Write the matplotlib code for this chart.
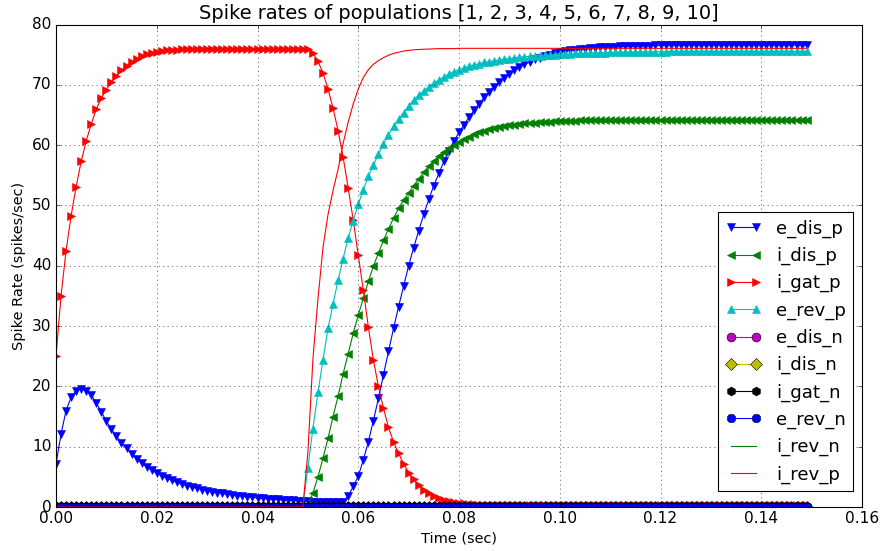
import numpy as np
import matplotlib
matplotlib.use("Agg")
import matplotlib.pyplot as plt
from matplotlib.ticker import FormatStrFormatter

plt.style.use("classic")

# time axis: one sample per millisecond
time = np.arange(150) * 0.001

e_dis_p = [7.1, 12.1, 16.0, 18.2, 19.3, 19.6, 19.3, 18.6, 17.2, 15.8,
           14.2, 12.9, 11.7, 10.6, 9.7, 8.8, 8.0, 7.3, 6.7, 6.1,
           5.6, 5.2, 4.8, 4.4, 4.1, 3.8, 3.5, 3.3, 3.1, 2.9,
           2.7, 2.55, 2.4, 2.25, 2.1, 2.0, 1.9, 1.8, 1.7, 1.6,
           1.5, 1.45, 1.4, 1.3, 1.25, 1.2, 1.15, 1.1, 1.05, 1.0,
           0.95, 0.9, 0.9, 0.85, 0.85, 0.8, 0.8, 0.9, 1.8, 3.4,
           5.1, 7.8, 10.8, 14.3, 18.0, 21.9, 25.8, 29.6, 33.2, 36.6,
           40.0, 43.0, 45.8, 48.5, 51.0, 53.3, 55.3, 57.3, 59.1, 60.7,
           62.1, 63.4, 64.6, 65.8, 66.9, 67.9, 68.8, 69.7, 70.5, 71.2,
           71.8, 72.4, 72.9, 73.4, 73.8, 74.2, 74.5, 74.8, 75.0, 75.2,
           75.4, 75.55, 75.7, 75.8, 75.9, 76.0, 76.1, 76.15, 76.2, 76.25,
           76.3, 76.33, 76.36, 76.39, 76.42, 76.45, 76.47, 76.49, 76.51, 76.53,
           76.55, 76.56, 76.57, 76.58, 76.59, 76.6, 76.6, 76.6, 76.6, 76.6,
           76.6, 76.6, 76.6, 76.6, 76.6, 76.6, 76.6, 76.6, 76.6, 76.6,
           76.6, 76.6, 76.6, 76.6, 76.6, 76.6, 76.6, 76.6, 76.6, 76.6]

i_dis_p = [0.0, 0.0, 0.0, 0.0, 0.0, 0.0, 0.0, 0.0, 0.0, 0.0,
           0.0, 0.0, 0.0, 0.0, 0.0, 0.0, 0.0, 0.0, 0.0, 0.0,
           0.0, 0.0, 0.0, 0.0, 0.0, 0.0, 0.0, 0.0, 0.0, 0.0,
           0.0, 0.0, 0.0, 0.0, 0.0, 0.0, 0.0, 0.0, 0.0, 0.0,
           0.0, 0.0, 0.0, 0.0, 0.0, 0.0, 0.0, 0.0, 0.0, 0.0,
           0.3, 2.3, 5.0, 8.1, 11.4, 15.0, 18.4, 22.1, 25.4, 28.8,
           31.8, 34.6, 37.4, 39.9, 42.1, 44.2, 46.1, 47.9, 49.5, 50.9,
           52.1, 53.3, 54.4, 55.5, 56.5, 57.4, 58.2, 58.9, 59.5, 60.1,
           60.6, 61.0, 61.4, 61.8, 62.1, 62.4, 62.6, 62.8, 63.0, 63.15,
           63.3, 63.4, 63.5, 63.6, 63.7, 63.75, 63.8, 63.85, 63.9, 63.95,
           64.0, 64.02, 64.05, 64.07, 64.1, 64.12, 64.14, 64.15, 64.17, 64.18,
           64.2, 64.2, 64.2, 64.2, 64.2, 64.2, 64.2, 64.2, 64.2, 64.2,
           64.2, 64.2, 64.2, 64.2, 64.2, 64.2, 64.2, 64.2, 64.2, 64.2,
           64.2, 64.2, 64.2, 64.2, 64.2, 64.2, 64.2, 64.2, 64.2, 64.2,
           64.2, 64.2, 64.2, 64.2, 64.2, 64.2, 64.2, 64.2, 64.2, 64.2]

i_gat_p = [25.0, 35.0, 42.5, 48.3, 53.1, 57.3, 60.7, 63.5, 66.0, 67.8,
           69.2, 70.5, 71.5, 72.4, 73.1, 73.7, 74.2, 74.7, 75.1, 75.3,
           75.5, 75.6, 75.7, 75.8, 75.85, 75.9, 75.95, 76.0, 76.0, 76.0,
           76.0, 76.0, 76.0, 76.0, 76.0, 76.0, 76.0, 76.0, 76.0, 76.0,
           76.0, 76.0, 76.0, 76.0, 76.0, 76.0, 76.0, 76.0, 76.0, 76.0,
           76.0, 75.3, 73.9, 72.0, 69.3, 66.1, 62.4, 58.0, 52.9, 47.6,
           41.8, 36.0, 29.9, 24.4, 20.0, 16.4, 13.2, 10.8, 8.9, 7.2,
           5.7, 4.6, 3.6, 2.9, 2.4, 1.8, 1.5, 1.2, 1.0, 0.85,
           0.7, 0.6, 0.5, 0.45, 0.4, 0.35, 0.3, 0.3, 0.3, 0.3,
           0.3, 0.3, 0.3, 0.3, 0.3, 0.3, 0.3, 0.3, 0.3, 0.3,
           0.3, 0.3, 0.3, 0.3, 0.3, 0.3, 0.3, 0.3, 0.3, 0.3,
           0.3, 0.3, 0.3, 0.3, 0.3, 0.3, 0.3, 0.3, 0.3, 0.3,
           0.3, 0.3, 0.3, 0.3, 0.3, 0.3, 0.3, 0.3, 0.3, 0.3,
           0.3, 0.3, 0.3, 0.3, 0.3, 0.3, 0.3, 0.3, 0.3, 0.3,
           0.3, 0.3, 0.3, 0.3, 0.3, 0.3, 0.3, 0.3, 0.3, 0.3]

e_rev_p = [0.0, 0.0, 0.0, 0.0, 0.0, 0.0, 0.0, 0.0, 0.0, 0.0,
           0.0, 0.0, 0.0, 0.0, 0.0, 0.0, 0.0, 0.0, 0.0, 0.0,
           0.0, 0.0, 0.0, 0.0, 0.0, 0.0, 0.0, 0.0, 0.0, 0.0,
           0.0, 0.0, 0.0, 0.0, 0.0, 0.0, 0.0, 0.0, 0.0, 0.0,
           0.0, 0.0, 0.0, 0.0, 0.0, 0.0, 0.0, 0.0, 0.0, 0.0,
           6.5, 13.0, 19.0, 24.4, 29.6, 33.7, 37.6, 41.2, 44.6, 47.5,
           50.2, 52.6, 54.8, 56.7, 58.5, 60.2, 61.7, 63.1, 64.3, 65.4,
           66.5, 67.4, 68.3, 69.0, 69.7, 70.3, 70.8, 71.3, 71.8, 72.2,
           72.5, 72.8, 73.1, 73.3, 73.5, 73.7, 73.85, 74.0, 74.1, 74.25,
           74.35, 74.45, 74.55, 74.65, 74.7, 74.8, 74.85, 74.9, 74.95, 75.0,
           75.05, 75.1, 75.15, 75.2, 75.22, 75.25, 75.28, 75.3, 75.32, 75.35,
           75.37, 75.39, 75.41, 75.43, 75.45, 75.46, 75.47, 75.48, 75.49, 75.5,
           75.51, 75.52, 75.53, 75.54, 75.55, 75.55, 75.55, 75.55, 75.55, 75.55,
           75.55, 75.55, 75.55, 75.55, 75.55, 75.55, 75.55, 75.55, 75.55, 75.55,
           75.55, 75.55, 75.55, 75.55, 75.55, 75.55, 75.55, 75.55, 75.55, 75.55]

i_rev_p = [0.0, 0.0, 0.0, 0.0, 0.0, 0.0, 0.0, 0.0, 0.0, 0.0,
           0.0, 0.0, 0.0, 0.0, 0.0, 0.0, 0.0, 0.0, 0.0, 0.0,
           0.0, 0.0, 0.0, 0.0, 0.0, 0.0, 0.0, 0.0, 0.0, 0.0,
           0.0, 0.0, 0.0, 0.0, 0.0, 0.0, 0.0, 0.0, 0.0, 0.0,
           0.0, 0.0, 0.0, 0.0, 0.0, 0.0, 0.0, 0.0, 0.0, 0.0,
           9.0, 24.5, 34.5, 43.0, 48.5, 52.5, 56.0, 60.3, 63.8, 66.8,
           69.3, 71.2, 72.5, 73.4, 74.0, 74.5, 74.9, 75.2, 75.4, 75.6,
           75.7, 75.8, 75.85, 75.9, 75.93, 75.96, 76.0, 76.0, 76.0, 76.0,
           76.05, 76.05, 76.05, 76.05, 76.05, 76.05, 76.05, 76.05, 76.05, 76.05,
           76.05, 76.05, 76.05, 76.05, 76.05, 76.05, 76.05, 76.05, 76.05, 76.05,
           76.05, 76.05, 76.05, 76.05, 76.05, 76.05, 76.05, 76.05, 76.05, 76.05,
           76.05, 76.05, 76.05, 76.05, 76.05, 76.05, 76.05, 76.05, 76.05, 76.05,
           76.05, 76.05, 76.05, 76.05, 76.05, 76.05, 76.05, 76.05, 76.05, 76.05,
           76.05, 76.05, 76.05, 76.05, 76.05, 76.05, 76.05, 76.05, 76.05, 76.05,
           76.05, 76.05, 76.05, 76.05, 76.05, 76.05, 76.05, 76.05, 76.05, 76.05]

# the "_n" populations stay silent for the whole run
e_dis_n = [0.0] * 150
i_dis_n = [0.0] * 150
i_gat_n = [0.2] * 150
e_rev_n = [0.0] * 150
i_rev_n = [0.0] * 150

populations = ["e_dis_p", "i_dis_p", "i_gat_p", "e_rev_p", "e_dis_n",
               "i_dis_n", "i_gat_n", "e_rev_n", "i_rev_n", "i_rev_p"]
rates = [e_dis_p, i_dis_p, i_gat_p, e_rev_p, e_dis_n,
         i_dis_n, i_gat_n, e_rev_n, i_rev_n, i_rev_p]

colors = ["b", "g", "r", "c", "m", "y", "k", "b", "g", "r"]
markers = ["v", "<", ">", "^", "o", "D", "h", "8", None, None]


fig = plt.figure(figsize=(881 / 80.0, 551 / 80.0), dpi=80)
fig.patch.set_facecolor("white")
ax = fig.add_axes([56 / 881.0, 44 / 551.0, 806 / 881.0, 482.5 / 551.0])

for name, r, c, m in zip(populations, rates, colors, markers):
    if m is None:
        ax.plot(time, r, "-", color=c, lw=1.0, label=name)
    elif m in ("v", "<", ">", "^"):
        ax.plot(time, r, "-", color=c, marker=m, ms=8, mec=c, mew=0.5, lw=1.0, label=name)
    else:
        ax.plot(time, r, "-", color=c, marker=m, ms=8, mec="k", mew=0.5, lw=1.0, label=name)

ax.set_xlim(0, 0.16)
ax.set_ylim(0, 80)
ax.set_xticks(np.arange(0, 0.161, 0.02))
ax.set_yticks(np.arange(0, 81, 10))
ax.xaxis.set_major_formatter(FormatStrFormatter("%.2f"))
ax.tick_params(labelsize=13.8)
ax.grid(True, color="k", linestyle=":", linewidth=0.5)

ax.set_title("Spike rates of populations [1, 2, 3, 4, 5, 6, 7, 8, 9, 10]", fontsize=17.4)
ax.set_xlabel("Time (sec)", fontsize=13)
ax.set_ylabel("Spike Rate (spikes/sec)", fontsize=13)

ax.legend(loc="lower right", bbox_to_anchor=(0.9888, 0.0332), borderaxespad=0,
          numpoints=2, fontsize=16.3, fancybox=False)

fig.savefig("out.png", dpi=80, facecolor="white")
